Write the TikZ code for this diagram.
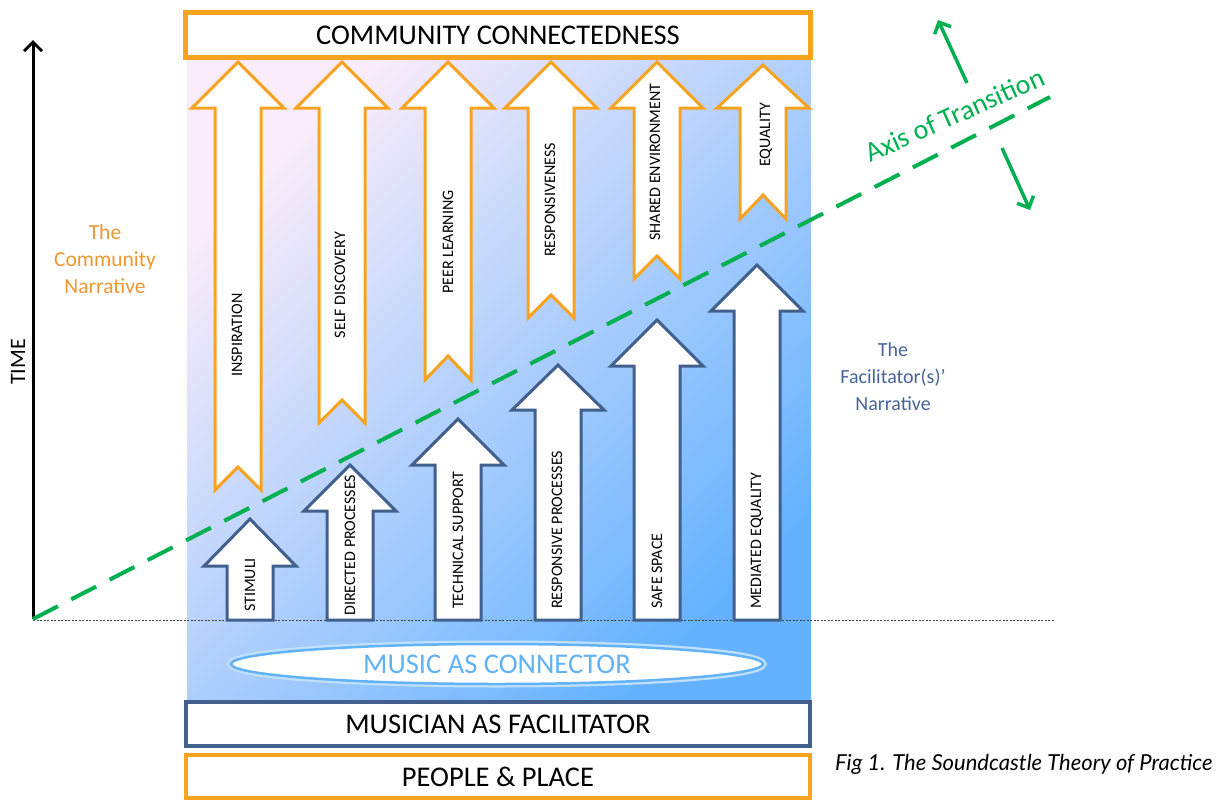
\documentclass[tikz,border=0pt]{standalone}
\usepackage{fontspec}
\setmainfont{Carlito}
\newfontfamily\capfont{Lato}
\usetikzlibrary{arrows.meta,shapes.geometric}
\definecolor{orA}{RGB}{248,163,32}
\definecolor{orT}{RGB}{238,150,48}
\definecolor{bluB}{RGB}{65,96,142}
\definecolor{bluT}{RGB}{70,100,150}
\definecolor{ltB}{RGB}{98,178,246}
\definecolor{grn}{RGB}{0,176,80}
\definecolor{pTL}{RGB}{250,236,250}
\definecolor{pMid}{RGB}{194,212,237}
\definecolor{pBR}{RGB}{100,178,255}
\newcommand\fatarrow[6]{%
  \draw[#6] (#1,#2) -- ({#1+46},#3) -- ({#1+23},#3) -- ({#1+23},#4) -- (#1,#5)
    -- ({#1-23},#4) -- ({#1-23},#3) -- ({#1-46},#3) -- cycle;}
\begin{document}
\begin{tikzpicture}[x=1pt,y=-1pt,
  orarrow/.style={draw=orA, line width=3pt, fill=white, line join=miter},
  bluarrow/.style={draw=bluB, line width=3pt, fill=white, line join=miter},
  lbl/.style={font=\fontsize{16}{19}\selectfont, rotate=90, inner sep=0pt},
  bigtxt/.style={font=\fontsize{28.5}{32}\selectfont},
  barb/.style={-{Straight Barb[length=9pt,width=18pt]}}]
\useasboundingbox (0,0) rectangle (1232,801);
% background panel
\shade[top color=pTL, middle color=pMid, bottom color=pBR, shading angle=45]
  (187,58) rectangle (811,700);
% dotted baseline
\coordinate (o) at (33,619);
\coordinate (dotend) at (1055,620);
\draw[line width=0.8pt, black!75, dash pattern=on 2pt off 1.5pt] (33,620) -- (dotend);
% orange (community) arrows
\fatarrow{238}{62}{108}{490}{467}{orarrow}
\fatarrow{342}{62}{108}{423}{400}{orarrow}
\fatarrow{448}{62}{108}{380}{356}{orarrow}
\fatarrow{551}{62}{108}{318}{295}{orarrow}
\fatarrow{657}{62}{108}{279}{256}{orarrow}
\fatarrow{763}{65}{108}{219}{195}{orarrow}
\node[lbl] (t1) at (237,335) {INSPIRATION};
\node[lbl] (t2) at (340,285) {SELF DISCOVERY};
\node[lbl] (t3) at (448,242) {PEER LEARNING};
\node[lbl] (t4) at (550,200) {RESPONSIVENESS};
\node[lbl] (t5) at (655,162) {SHARED ENVIRONMENT};
\node[lbl] (t6) at (766,135) {EQUALITY};
% blue (facilitator) arrows
\fatarrow{250}{519}{566}{620}{620}{bluarrow}
\fatarrow{350}{465}{511}{620}{620}{bluarrow}
\fatarrow{458}{419}{465}{620}{620}{bluarrow}
\fatarrow{558}{365}{410}{620}{620}{bluarrow}
\fatarrow{657}{320}{366}{620}{620}{bluarrow}
\fatarrow{757}{265}{311}{620}{620}{bluarrow}
\node[lbl, anchor=west] (b1) at (250,612) {STIMULI};
\node[lbl, anchor=west] (b2) at (350,616) {DIRECTED PROCESSES};
\node[lbl, anchor=west] (b3) at (458,609) {TECHNICAL SUPPORT};
\node[lbl, anchor=west] (b4) at (557,609) {RESPONSIVE PROCESSES};
\node[lbl, anchor=west] (b5) at (657,609) {SAFE SPACE};
\node[lbl, anchor=west] (b6) at (757,609) {MEDIATED EQUALITY};
% music as connector
\draw[ltB!40, line width=7pt] (497,664) ellipse (266pt and 20pt);
\node[ellipse, draw=ltB, line width=2.5pt, fill=white, minimum width=532pt,
  minimum height=40pt, inner sep=0pt, text=ltB, bigtxt] (mc) at (497,664) {MUSIC AS CONNECTOR};
% boxes
\node[draw=orA, line width=5pt, fill=white, minimum width=625pt, minimum height=45pt,
  inner sep=0pt, bigtxt] (cc) at (498,35) {COMMUNITY CONNECTEDNESS};
\node[draw=bluB, line width=4pt, fill=white, minimum width=624pt, minimum height=44pt,
  inner sep=0pt, bigtxt] (mf) at (498,724) {MUSICIAN AS FACILITATOR};
\node[draw=orA, line width=4pt, fill=white, minimum width=624pt, minimum height=43pt,
  inner sep=0pt, bigtxt] (pp) at (498,776.5) {PEOPLE \& PLACE};
% time axis
\coordinate (ttop) at (33,40);
\draw[barb, line width=3pt] (o) -- (ttop);
\node[rotate=90, font=\fontsize{22}{26}\selectfont] (time) at (18,362) {TIME};
% narratives
\node[font=\fontsize{21.5}{27}\selectfont, align=center, text=orT] (cn) at (105,259)
  {The\\Community\\Narrative};
\node[font=\fontsize{20}{27}\selectfont, align=center, text=bluT] (fn) at (893,377)
  {The\\Facilitator(s)’\\Narrative};
% axis of transition
\coordinate (axend) at (1050,97);
\draw[grn, line width=4pt, dash pattern=on 28pt off 15pt] (o) -- (axend);
\node[text=grn, rotate=24, anchor=base west, inner sep=0pt,
  font=\fontsize{28}{32}\selectfont] (aot) at (870,163) {Axis of Transition};
\coordinate (ga1) at (967,83);
\coordinate (ga2) at (938,20);
\coordinate (gb1) at (1002,148);
\coordinate (gb2) at (1030,210);
\draw[barb, grn, line width=3.5pt] (ga1) -- (ga2);
\draw[barb, grn, line width=3.5pt] (gb1) -- (gb2);
% caption
\node[anchor=base west, inner sep=0pt, font=\capfont\itshape\fontsize{22}{26}\selectfont] (cap) at (835,770)
  {Fig 1. The Soundcastle Theory of Practice};
\end{tikzpicture}
\end{document}
